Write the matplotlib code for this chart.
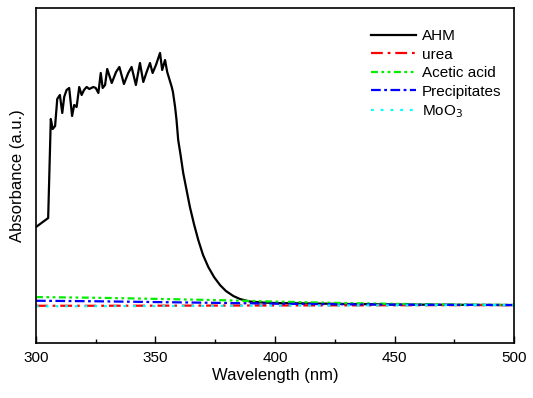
import numpy as np
import matplotlib.pyplot as plt

#Font similar to Arial
plt.rcParams['font.family'] = ['Liberation Sans', 'DejaVu Sans']
plt.rcParams['lines.scale_dashes'] = False

#AHM spectrum
ahm_wl = [300, 305.1, 306.2, 307.0, 308.0, 308.9, 310.0, 311.0, 311.8, 312.8, 313.9, 315.1,
          316.0, 317.0, 318.1, 319.1, 320.1, 321.2, 322.3, 324.0, 325.0, 326.1, 327.1, 327.9,
          328.9, 329.8, 331.7, 333.5, 334.9, 336.8, 338.6, 340.0, 341.8, 343.5, 344.9, 346.3,
          347.7, 348.8, 350.2, 351.9, 352.8, 354.0, 354.9, 356.8, 357.3, 358.2, 358.8, 359.5,
          360.5, 361.6, 363.0, 364.4, 366.1, 367.9, 369.9, 372.1, 374.5, 377.0, 379.5, 382.6,
          385.4, 389.5, 395.0, 400.7, 450, 500]
ahm_abs = [0.78, 0.87, 1.86, 1.76, 1.79, 2.06, 2.10, 1.92, 2.08, 2.15, 2.17, 1.89,
           2.00, 1.98, 2.18, 2.10, 2.15, 2.18, 2.16, 2.18, 2.17, 2.12, 2.32, 2.17,
           2.20, 2.36, 2.22, 2.33, 2.38, 2.21, 2.32, 2.38, 2.20, 2.42, 2.23, 2.33,
           2.42, 2.32, 2.40, 2.52, 2.35, 2.45, 2.33, 2.18, 2.13, 1.98, 1.85, 1.65,
           1.50, 1.32, 1.15, 0.98, 0.81, 0.65, 0.50, 0.38, 0.28, 0.20, 0.14, 0.09,
           0.06, 0.035, 0.025, 0.02, 0.005, 0.0]

#Other samples - nearly flat
wl = [300, 325, 350, 375, 400, 425, 450, 475, 500]
urea = [-0.007, -0.007, -0.006, -0.005, -0.004, -0.003, -0.002, -0.001, 0.0]
acetic = [0.08, 0.073, 0.062, 0.05, 0.035, 0.022, 0.012, 0.005, 0.002]
precip = [0.043, 0.038, 0.03, 0.022, 0.014, 0.008, 0.004, 0.002, 0.0]
moo3 = [-0.012, -0.011, -0.010, -0.008, -0.006, -0.004, -0.003, -0.001, 0.0]

fig = plt.figure(figsize=(5.33, 3.98), dpi=100)
ax = fig.add_axes([0.0675, 0.138, 0.8969, 0.842])

ax.plot(ahm_wl, ahm_abs, color='black', lw=1.6, label='AHM')
ax.plot(wl, urea, color='red', lw=1.6, ls=(0, (8.5, 3.5, 2, 3.5)), label='urea')
ax.plot(wl, acetic, color='#00ee00', lw=1.6, ls=(0, (5, 2.5, 2, 2.5, 2, 2.5)), label='Acetic acid')
ax.plot(wl, precip, color='blue', lw=1.6, ls=(0, (7, 2.5, 2, 2.5)), label='Precipitates')
ax.plot(wl, moo3, color='cyan', lw=1.6, ls=(0, (2, 5)), label='MoO$_3$')

#Axes setup
ax.set_xlim(300, 500)
ax.set_ylim(-0.38, 2.97)
ax.set_xticks([300, 350, 400, 450, 500])
ax.set_xticks([325, 375, 425, 475], minor=True)
ax.tick_params(axis='x', direction='in', length=5, width=1, labelsize=11, pad=6)
ax.tick_params(axis='x', which='minor', direction='in', length=3, width=1)
ax.set_yticks([])
for s in ax.spines.values():
    s.set_linewidth(1.2)

#Add labels
ax.set_xlabel('Wavelength (nm)', fontsize=12, labelpad=2)
ax.set_ylabel('Absorbance (a.u.)', fontsize=12, labelpad=8)
ax.legend(loc='upper left', frameon=False, fontsize=11, handlelength=3.0,
          handletextpad=0.35, labelspacing=0.3, borderpad=0, borderaxespad=0,
          bbox_to_anchor=(0.70, 0.937))

fig.savefig('out.png', dpi=100)
